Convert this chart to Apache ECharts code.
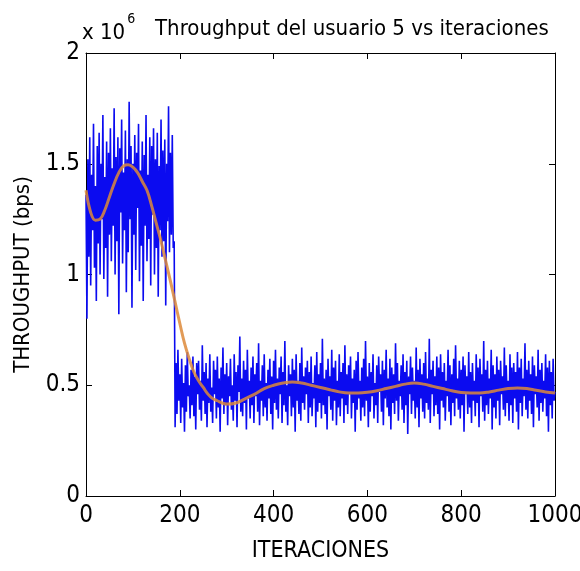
<!DOCTYPE html>
<html>
<head>
<meta charset="utf-8">
<script src="https://cdn.jsdelivr.net/npm/echarts@6/dist/echarts.min.js"></script>
<style>
html,body{margin:0;padding:0;background:#fff;}
#c{width:580px;height:571px;}
</style>
</head>
<body>
<div id="c"></div>
<script>
// Throughput values in units of 10^6 bps, one sample every 2 iterations (0..1000)
const throughputPhase1 = [
1.36,0.80,1.52,1.08,1.62,0.95,1.45,1.20,1.68,1.03,1.40,0.88,1.58,1.14,1.64,1.00,1.50,1.25,1.72,
0.98,1.44,1.12,1.60,0.90,1.55,1.18,1.66,1.06,1.48,1.22,1.75,1.00,1.53,1.15,1.62,0.82,1.57,1.28,
1.70,1.05,1.46,1.20,1.65,0.92,1.52,1.10,1.78,1.25,1.58,0.85,1.50,1.18,1.63,1.02,1.55,1.30,1.68,
0.97,1.47,1.13,1.60,0.88,1.54,1.22,1.72,1.06,1.45,1.16,1.62,0.95,1.58,1.27,1.66,1.00,1.52,1.12,
1.64,0.90,1.49,1.20,1.70,1.08,1.56,1.15,1.61,0.86,1.50,1.24,1.76,1.10,1.55,1.18,1.63,1.12,1.15
];
const throughputPhase2 = [
0.31,0.60,0.37,0.66,0.43,0.55,0.33,0.62,0.40,0.51,0.29,0.59,0.38,0.65,0.45,0.50,0.35,0.57,0.41,0.63,
0.36,0.54,0.30,0.60,0.46,0.61,0.39,0.52,0.34,0.68,0.43,0.56,0.37,0.60,0.31,0.53,0.42,0.64,0.38,0.49,
0.33,0.61,0.46,0.57,0.35,0.63,0.40,0.53,0.29,0.58,0.44,0.67,0.37,0.55,0.41,0.60,0.32,0.54,0.45,0.62,
0.39,0.50,0.34,0.64,0.43,0.56,0.31,0.59,0.47,0.72,0.38,0.53,0.36,0.61,0.42,0.57,0.30,0.66,0.44,0.52,
0.35,0.58,0.41,0.63,0.33,0.55,0.45,0.60,0.38,0.69,0.32,0.52,0.43,0.59,0.36,0.64,0.40,0.51,0.34,0.57,
0.44,0.62,0.37,0.54,0.30,0.61,0.42,0.66,0.39,0.53,0.35,0.58,0.46,0.63,0.33,0.56,0.41,0.70,0.38,0.50,
0.32,0.59,0.45,0.55,0.36,0.62,0.40,0.57,0.29,0.64,0.43,0.52,0.37,0.60,0.34,0.67,0.42,0.54,0.39,0.58,
0.46,0.61,0.33,0.56,0.40,0.63,0.36,0.51,0.44,0.59,0.31,0.65,0.38,0.55,0.42,0.60,0.35,0.71,0.41,0.53,
0.37,0.57,0.30,0.62,0.45,0.54,0.39,0.66,0.34,0.58,0.43,0.61,0.32,0.52,0.40,0.64,0.36,0.56,0.44,0.60,
0.33,0.68,0.41,0.55,0.37,0.59,0.46,0.63,0.35,0.53,0.42,0.57,0.29,0.61,0.39,0.65,0.44,0.52,0.34,0.58,
0.40,0.62,0.36,0.70,0.43,0.54,0.31,0.60,0.38,0.56,0.45,0.64,0.35,0.51,0.41,0.59,0.33,0.63,0.47,0.55,
0.38,0.61,0.32,0.57,0.44,0.66,0.40,0.53,0.36,0.62,0.30,0.58,0.42,0.55,0.37,0.69,0.43,0.60,0.34,0.52,
0.45,0.59,0.39,0.64,0.33,0.56,0.41,0.61,0.28,0.54,0.46,0.63,0.37,0.58,0.43,0.52,0.35,0.67,0.40,0.57,
0.31,0.62,0.44,0.55,0.38,0.60,0.35,0.65,0.42,0.53,0.39,0.71,0.33,0.57,0.46,0.61,0.36,0.54,0.41,0.63,
0.37,0.58,0.30,0.64,0.43,0.56,0.40,0.60,0.34,0.52,0.45,0.66,0.38,0.59,0.32,0.55,0.42,0.62,0.36,0.68,
0.44,0.53,0.39,0.61,0.35,0.57,0.41,0.63,0.29,0.59,0.46,0.54,0.37,0.65,0.40,0.56,0.33,0.60,0.43,0.52,
0.36,0.64,0.42,0.58,0.31,0.62,0.45,0.55,0.38,0.70,0.34,0.57,0.41,0.61,0.37,0.53,0.44,0.66,0.30,0.59,
0.40,0.55,0.35,0.63,0.43,0.57,0.32,0.61,0.46,0.54,0.39,0.67,0.36,0.59,0.42,0.52,0.34,0.64,0.41,0.58,
0.33,0.60,0.44,0.56,0.38,0.65,0.30,0.58,0.42,0.62,0.36,0.53,0.45,0.69,0.39,0.57,0.35,0.61,0.43,0.55,
0.37,0.63,0.31,0.59,0.46,0.54,0.40,0.66,0.34,0.57,0.42,0.60,0.38,0.52,0.44,0.64,0.36,0.58,0.29,0.61,
0.41,0.56,0.35,0.62,0.43,0.47
];
// Smoothed throughput (orange curve), 10^6 bps
const smoothIter = [0,10,20,30,40,50,60,70,80,90,100,110,120,130,140,150,160,170,180,190,200,210,220,230,240,250,260,270,280,290,300,320,340,360,380,400,420,440,460,480,500,520,540,560,580,600,620,640,660,680,700,720,740,760,780,800,820,840,860,880,900,920,940,960,980,1000];
const smoothVal  = [1.38,1.28,1.245,1.25,1.29,1.35,1.41,1.46,1.49,1.495,1.485,1.46,1.42,1.38,1.31,1.23,1.15,1.06,0.97,0.875,0.78,0.69,0.62,0.56,0.52,0.49,0.46,0.44,0.43,0.42,0.415,0.42,0.44,0.46,0.485,0.50,0.51,0.515,0.51,0.50,0.49,0.48,0.47,0.465,0.465,0.468,0.475,0.485,0.495,0.505,0.51,0.505,0.495,0.485,0.475,0.467,0.465,0.465,0.47,0.478,0.485,0.488,0.485,0.477,0.47,0.465];
const xTicks = [0,200,400,600,800,1000];
const yTicks = [0,0.5,1,1.5,2];

const FONT = "'Liberation Sans Narrow','DejaVu Sans Condensed','Liberation Sans',sans-serif";
const raw = throughputPhase1.concat(throughputPhase2);
const n = raw.length;
const rawData = raw.map((v,i)=>[Math.round(i*1000/(n-1)), v]);
const smoothData = smoothIter.map((x,i)=>[x, smoothVal[i]]);

const chart = echarts.init(document.getElementById('c'));
const axisLineStyle = {color:'#000', width:1};
function xAx(pos, labels){
  return {
    type:'value', position:pos, min:xTicks[0], max:xTicks[xTicks.length-1], interval:200,
    axisLine:{show:true, onZero:false, lineStyle:axisLineStyle},
    axisTick:{show:true, inside:true, length:6, lineStyle:axisLineStyle},
    axisLabel:{show:labels, color:'#000', fontSize:24, fontFamily:FONT, margin:8,
      formatter:(v)=>String(v)},
    splitLine:{show:false},
    name: labels ? 'ITERACIONES' : '', nameLocation:'middle', nameGap:44,
    nameTextStyle:{color:'#000', fontSize:23, fontFamily:FONT}
  };
}
function yAx(pos, labels){
  return {
    type:'value', position:pos, min:yTicks[0], max:yTicks[yTicks.length-1], interval:0.5,
    axisLine:{show:true, onZero:false, lineStyle:axisLineStyle},
    axisTick:{show:true, inside:true, length:6, lineStyle:axisLineStyle},
    axisLabel:{show:labels, color:'#000', fontSize:24, fontFamily:FONT, margin:6,
      formatter:(v)=>String(v)},
    splitLine:{show:false},
    name: labels ? 'THROUGHPUT (bps)' : '', nameLocation:'middle', nameGap:52, nameRotate:90,
    nameTextStyle:{color:'#000', fontSize:22, fontFamily:FONT}
  };
}
chart.setOption({
  animation:false,
  backgroundColor:'#fff',
  grid:{left:86, right:25, top:53, bottom:75, containLabel:false, outerBoundsMode:'none'},
  title:{
    text:'Throughput del usuario 5 vs iteraciones',
    left:150, top:13,
    textStyle:{color:'#000', fontSize:22, fontWeight:'normal', fontFamily:FONT}
  },
  graphic:[{
    type:'text', left:82, top:12,
    style:{
      text:'{b|x 10}{s|6}',
      rich:{
        b:{fontSize:22, fontFamily:FONT, fill:'#000', padding:[10,0,0,0]},
        s:{fontSize:14, fontFamily:FONT, fill:'#000', verticalAlign:'top', padding:[0,0,0,2]}
      }
    }
  }],
  xAxis:[xAx('bottom', true), xAx('top', false)],
  yAxis:[yAx('left', true), yAx('right', false)],
  series:[
    {type:'line', data:rawData, showSymbol:false, symbol:'none', sampling:null,
     lineStyle:{color:'#0b0bf0', width:1.6}, z:2},
    {type:'line', data:smoothData, showSymbol:false, symbol:'none', smooth:0.4,
     lineStyle:{color:'#dd8a3a', width:3, opacity:0.85}, z:3}
  ]
});
</script>
</body>
</html>
